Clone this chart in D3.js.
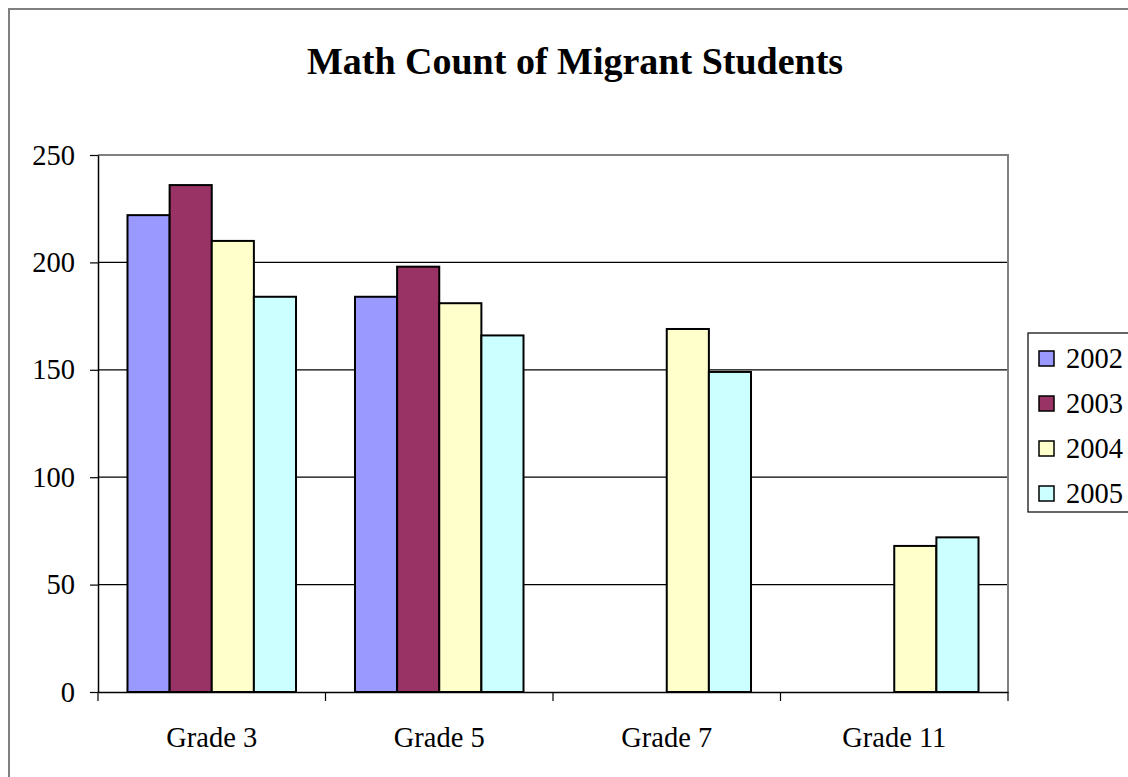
<!DOCTYPE html>
<html>
<head>
<meta charset="utf-8">
<script src="https://cdn.jsdelivr.net/npm/d3@7"></script>
<style>
  body { margin: 0; background: #fff; }
  text { font-family: "Liberation Serif", "Times New Roman", serif; fill: #000; }
</style>
</head>
<body>
<div id="chart"></div>
<script>
const grades = ['Grade 3', 'Grade 5', 'Grade 7', 'Grade 11'];
const years = ['2002', '2003', '2004', '2005'];
const colors = ['#9999FF', '#993366', '#FFFFCC', '#CCFFFF'];
// one array per year, null = no bar
const v2002 = [222, 184, null, null];
const v2003 = [236, 198, null, null];
const v2004 = [210, 181, 169, 68];
const v2005 = [184, 166, 149, 72];
const yTicks = [0, 50, 100, 150, 200, 250];

const series = [v2002, v2003, v2004, v2005];

const W = 1128, H = 777;
const plot = {left: 98, top: 155, right: 1008, bottom: 692};
const fontSize = 28.5;

const svg = d3.select('#chart').append('svg')
    .attr('width', W)
    .attr('height', H);

// outer chart border
svg.append('rect')
    .attr('x', 9).attr('y', 9)
    .attr('width', W + 20).attr('height', H + 20)
    .attr('fill', '#fff')
    .attr('stroke', '#808080')
    .attr('stroke-width', 2);

svg.append('text')
    .attr('x', 575).attr('y', 74)
    .attr('text-anchor', 'middle')
    .attr('font-size', 38)
    .attr('font-weight', 'bold')
    .text('Math Count of Migrant Students');

const x0 = d3.scaleBand()
    .domain(grades)
    .range([plot.left, plot.right]);

const x1 = d3.scaleBand()
    .domain(years)
    .range([0, x0.bandwidth()])
    .paddingOuter(0.7);

const y = d3.scaleLinear()
    .domain([0, 250])
    .range([plot.bottom, plot.top]);

// gridlines
svg.append('g')
  .selectAll('line')
  .data(yTicks.filter(d => d > 0 && d < 250))
  .enter().append('line')
    .attr('x1', plot.left).attr('x2', plot.right)
    .attr('y1', d => y(d)).attr('y2', d => y(d))
    .attr('stroke', '#000')
    .attr('stroke-width', 1.2);

// plot area border (top/right)
svg.append('path')
    .attr('d', `M${plot.left},${plot.top}H${plot.right}V${plot.bottom}`)
    .attr('fill', 'none')
    .attr('stroke', '#808080')
    .attr('stroke-width', 2);

// bars
const data = [];
grades.forEach((g, i) => {
  years.forEach((yr, j) => {
    if (series[j][i] != null) data.push({grade: g, year: yr, value: series[j][i], color: colors[j]});
  });
});

svg.append('g')
  .selectAll('rect')
  .data(data)
  .enter().append('rect')
    .attr('x', d => x0(d.grade) + x1(d.year))
    .attr('y', d => y(d.value))
    .attr('width', x1.bandwidth())
    .attr('height', d => y(0) - y(d.value))
    .attr('fill', d => d.color)
    .attr('stroke', '#000')
    .attr('stroke-width', 2);

// y axis
const yAxis = svg.append('g')
    .attr('transform', `translate(${plot.left},0)`)
    .call(d3.axisLeft(y).tickValues(yTicks).tickSize(8).tickPadding(15).tickSizeOuter(0));
yAxis.select('.domain').attr('stroke', '#000').attr('stroke-width', 1.5);
yAxis.selectAll('.tick line').attr('stroke', '#000').attr('stroke-width', 1.2);
yAxis.selectAll('.tick text')
    .attr('font-size', fontSize)
    .attr('font-family', '"Liberation Serif", serif')
    .attr('fill', '#000');

// x axis
const xAxis = svg.append('g')
    .attr('transform', `translate(0,${plot.bottom})`)
    .call(d3.axisBottom(x0).tickSize(0).tickPadding(35));
xAxis.select('.domain').attr('stroke', '#000').attr('stroke-width', 1.5);
xAxis.selectAll('.tick text')
    .attr('font-size', fontSize)
    .attr('font-family', '"Liberation Serif", serif')
    .attr('fill', '#000');
xAxis.selectAll('line.sep')
  .data(grades.map(g => x0(g)).concat([plot.right]))
  .enter().append('line')
    .attr('class', 'sep')
    .attr('x1', d => d).attr('x2', d => d)
    .attr('y1', 0).attr('y2', 9)
    .attr('stroke', '#000')
    .attr('stroke-width', 1.2);

// legend
const legend = svg.append('g')
    .attr('transform', 'translate(1028,333)');
legend.append('rect')
    .attr('width', 130).attr('height', 179)
    .attr('fill', '#fff')
    .attr('stroke', '#000')
    .attr('stroke-width', 1.2);
const item = legend.selectAll('g.item')
  .data(years)
  .enter().append('g')
    .attr('class', 'item')
    .attr('transform', (d, i) => `translate(11,${25 + i * 45})`);
item.append('rect')
    .attr('y', -7)
    .attr('width', 15).attr('height', 15)
    .attr('fill', (d, i) => colors[i])
    .attr('stroke', '#000')
    .attr('stroke-width', 1.5);
item.append('text')
    .attr('x', 27)
    .attr('dy', '0.35em')
    .attr('font-size', fontSize)
    .text(d => d);
</script>
</body>
</html>
